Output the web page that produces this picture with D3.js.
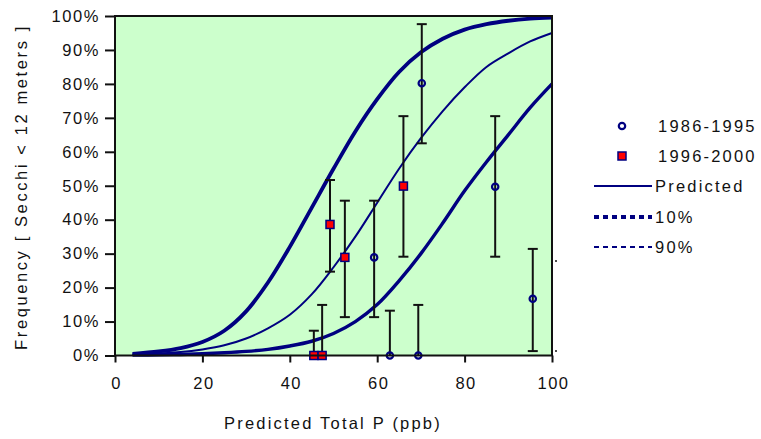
<!DOCTYPE html>
<html>
<head>
<meta charset="utf-8">
<script src="https://cdn.jsdelivr.net/npm/d3@7"></script>
<style>
  body { margin: 0; background: #fff; }
  text { font-family: "Liberation Sans", Arial, sans-serif; fill: #111; }
</style>
</head>
<body>
<div id="plot"></div>
<script>
// curve readings (x in ppb, y in %)
var curveX = [4, 10, 15, 20, 25, 30, 35, 40, 45, 50, 55, 60, 65, 70, 75, 80, 85, 90, 95, 100];
var leftCurve  = [0.5, 1.2, 2.2, 4, 7.3, 13, 21.5, 32, 43.5, 55, 66, 75.5, 83.5, 89.3, 93.3, 96, 97.6, 98.6, 99.2, 99.5];
var midCurve   = [0.3, 0.6, 1, 1.8, 3, 5, 8, 12, 18, 26, 35, 45, 55, 64, 72, 79, 85, 89, 92.5, 95];
var rightCurve = [0.1, 0.2, 0.3, 0.5, 0.8, 1.2, 1.8, 2.8, 4.2, 6.5, 10, 15, 22, 30, 39, 48.5, 57, 65, 73, 80];

// observed frequencies with error bars
var obsA_x   = [59.3, 62.9, 69.4, 70.2, 87, 95.6];          // 1986-1995
var obsA_y   = [28.9, 0, 0, 80.2, 49.7, 16.7];
var obsA_lo  = [11.3, 0, 0, 62.5, 29.1, 1.3];
var obsA_hi  = [45.6, 13.2, 14.9, 97.6, 70.5, 31.4];

var obsB_x   = [45.5, 47.4, 49.2, 52.6, 66];                // 1996-2000
var obsB_y   = [0, 0, 38.6, 28.9, 49.9];
var obsB_lo  = [0, 0, 24.7, 11.3, 29.1];
var obsB_hi  = [7.3, 14.9, 51.7, 45.6, 70.5];

var xTicks = [0, 20, 40, 60, 80, 100];
var yTicks = [0, 10, 20, 30, 40, 50, 60, 70, 80, 90, 100];

var W = 761, H = 439;
var L = 115, R = 552, T = 16, B = 355.5;
var navy = "#000080";

var svg = d3.select("#plot").append("svg")
    .attr("width", W).attr("height", H);

var x = d3.scaleLinear().domain([0, 100]).range([L, R]);
var y = d3.scaleLinear().domain([0, 100]).range([B, T]);

// plot area
svg.append("rect")
    .attr("x", L).attr("y", T).attr("width", R - L).attr("height", B - T)
    .attr("fill", "#ccffcc");

// axes
var xAxis = d3.axisBottom(x).tickValues(xTicks).tickSize(7).tickFormat(d3.format("d"));
var gx = svg.append("g").attr("transform", "translate(0," + B + ")").call(xAxis);
gx.select(".domain").remove();
gx.selectAll("line").attr("stroke", "#111").attr("stroke-width", 2);
gx.selectAll("text").attr("y", 22).attr("dy", "0.71em")
    .style("font-size", "16.5px").style("letter-spacing", "1.5px").attr("fill", "#111")
    .attr("dx", "1px");

var yAxis = d3.axisLeft(y).tickValues(yTicks).tickSize(10).tickFormat(function (d) { return d + "%"; });
var gy = svg.append("g").attr("transform", "translate(" + L + ",0)").call(yAxis);
gy.select(".domain").remove();
gy.selectAll("line").attr("stroke", "#111").attr("stroke-width", 2);
gy.selectAll("text").attr("x", -15)
    .style("font-size", "16.5px").style("letter-spacing", "1.6px").attr("fill", "#111");

// curves
var line = d3.line()
    .x(function (d) { return x(d[0]); })
    .y(function (d) { return y(d[1]); })
    .curve(d3.curveCatmullRom.alpha(0.5));

function drawCurve(vals, w) {
  svg.append("path")
      .datum(curveX.map(function (v, i) { return [v, vals[i]]; }))
      .attr("d", line)
      .attr("fill", "none")
      .attr("stroke", navy)
      .attr("stroke-width", w);
}
drawCurve(leftCurve, 3.8);
drawCurve(midCurve, 2);
drawCurve(rightCurve, 3.4);

// error bars
function drawBars(xs, lo, hi) {
  var g = svg.append("g").attr("stroke", "#111").attr("stroke-width", 2);
  xs.forEach(function (v, i) {
    var cx = x(v);
    g.append("line").attr("x1", cx).attr("x2", cx).attr("y1", y(lo[i])).attr("y2", y(hi[i]));
    g.append("line").attr("x1", cx - 5).attr("x2", cx + 5).attr("y1", y(hi[i])).attr("y2", y(hi[i]));
    if (lo[i] > 0) {
      g.append("line").attr("x1", cx - 5).attr("x2", cx + 5).attr("y1", y(lo[i])).attr("y2", y(lo[i]));
    }
  });
}
drawBars(obsA_x, obsA_lo, obsA_hi);
drawBars(obsB_x, obsB_lo, obsB_hi);

// markers
obsA_x.forEach(function (v, i) {
  svg.append("circle").attr("cx", x(v)).attr("cy", y(obsA_y[i])).attr("r", 3.2)
      .attr("fill", "none").attr("stroke", navy).attr("stroke-width", 2.2);
});
obsB_x.forEach(function (v, i) {
  svg.append("rect").attr("x", x(v) - 4).attr("y", y(obsB_y[i]) - 4)
      .attr("width", 8).attr("height", 8)
      .attr("fill", "#ff0000").attr("stroke", navy).attr("stroke-width", 1.5);
});

// plot frame
svg.append("rect")
    .attr("x", L).attr("y", T).attr("width", R - L).attr("height", B - T)
    .attr("fill", "none").attr("stroke", "#111").attr("stroke-width", 2);

// small marks at right
[261, 351].forEach(function (yy) {
  svg.append("circle").attr("cx", 556).attr("cy", yy).attr("r", 1).attr("fill", "#111");
});

// axis titles
svg.append("text")
    .attr("x", 333).attr("y", 429)
    .attr("text-anchor", "middle")
    .style("font-size", "16.5px").style("letter-spacing", "2.2px")
    .text("Predicted Total P (ppb)");

svg.append("text")
    .attr("transform", "translate(27,187) rotate(-90)")
    .attr("text-anchor", "middle")
    .style("font-size", "16.5px").style("letter-spacing", "2.6px")
    .text("Frequency [ Secchi < 12 meters ]");

// legend
var lg = svg.append("g");
lg.append("circle").attr("cx", 622).attr("cy", 126).attr("r", 3.2)
    .attr("fill", "none").attr("stroke", navy).attr("stroke-width", 2.2);
lg.append("rect").attr("x", 618).attr("y", 152).attr("width", 8).attr("height", 8)
    .attr("fill", "#ff0000").attr("stroke", navy).attr("stroke-width", 1.5);
lg.append("line").attr("x1", 594).attr("x2", 652).attr("y1", 186).attr("y2", 186)
    .attr("stroke", navy).attr("stroke-width", 2);
lg.append("line").attr("x1", 594).attr("x2", 652).attr("y1", 217).attr("y2", 217)
    .attr("stroke", navy).attr("stroke-width", 4).attr("stroke-dasharray", "5,4");
lg.append("line").attr("x1", 594).attr("x2", 652).attr("y1", 247).attr("y2", 247)
    .attr("stroke", navy).attr("stroke-width", 2).attr("stroke-dasharray", "5,4");

var legendLabels = ["1986-1995", "1996-2000", "Predicted", "10%", "90%"];
var legendY = [126, 156, 186, 217, 247];
legendLabels.forEach(function (t, i) {
  lg.append("text").attr("x", i < 2 ? 658 : 655).attr("y", legendY[i]).attr("dy", "0.35em")
      .style("font-size", "16.5px").style("letter-spacing", "2.2px")
      .text(t);
});
</script>
</body>
</html>
